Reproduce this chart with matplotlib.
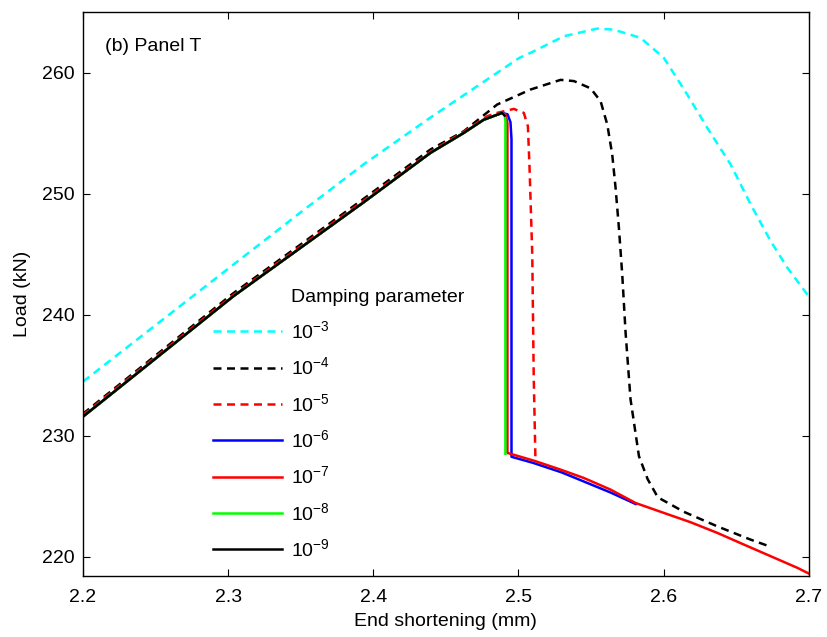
import matplotlib
matplotlib.use("Agg")
import matplotlib.pyplot as plt
from matplotlib.lines import Line2D

plt.rcParams['font.family'] = ['Liberation Sans', 'DejaVu Sans']
plt.rcParams['mathtext.fontset'] = 'custom'
plt.rcParams['mathtext.rm'] = 'Liberation Sans'
plt.rcParams['mathtext.it'] = 'Liberation Sans:italic'
plt.rcParams['font.size'] = 14

# ---- data (end shortening mm, load kN) ----
# damping 1e-3
x_e3 = [2.2, 2.269, 2.3497, 2.3931, 2.4393, 2.5005, 2.5083, 2.5312, 2.5543, 2.5657,
        2.5841, 2.6002, 2.6163, 2.6301, 2.6462, 2.66, 2.6738, 2.6853, 2.7]
y_e3 = [234.46, 240.9, 248.43, 252.4, 256.28, 261.21, 261.63, 263.0, 263.64, 263.55,
        262.87, 261.21, 258.18, 255.43, 252.4, 249.1, 246.06, 243.86, 241.5]

# damping 1e-4
x_e4 = [2.2, 2.216, 2.3034, 2.3931, 2.4393, 2.4623, 2.4853, 2.5083, 2.529, 2.5382,
        2.5497, 2.5566, 2.5612, 2.5646, 2.5669, 2.5692, 2.5715, 2.5738, 2.5772,
        2.583, 2.589, 2.596, 2.614, 2.637, 2.66, 2.674]
y_e4 = [231.8, 233.35, 241.75, 249.55, 253.64, 255.15, 257.36, 258.6, 259.4, 259.3,
        258.7, 257.63, 255.7, 253.22, 250.47, 247.16, 243.3, 238.5, 233.0,
        228.3, 226.4, 224.9, 223.7, 222.5, 221.4, 220.8]

# damping 1e-5
x_e5 = [2.2, 2.216, 2.3034, 2.3931, 2.4393, 2.4621, 2.4786, 2.4853, 2.4968, 2.5037,
        2.5065, 2.5076, 2.5095, 2.5105, 2.5117]
y_e5 = [231.7, 233.25, 241.6, 249.4, 253.45, 255.1, 256.4, 256.67, 257.0, 256.67,
        255.56, 252.26, 245.0, 235.0, 228.0]

# damping 1e-6
x_e6 = [2.2, 2.216, 2.3034, 2.3931, 2.4393, 2.4621, 2.476, 2.4887, 2.4925, 2.4945,
        2.4952, 2.4952, 2.51, 2.53, 2.5634, 2.5807]
y_e6 = [231.57, 233.1, 241.5, 249.26, 253.36, 255.0, 256.1, 256.67, 256.55, 255.9,
        254.5, 228.25, 227.75, 226.95, 225.3, 224.35]

# damping 1e-7
x_e7 = [2.2, 2.216, 2.3034, 2.3931, 2.4393, 2.4621, 2.476, 2.4887, 2.4912, 2.4924,
        2.4924, 2.5106, 2.529, 2.545, 2.5634, 2.5807, 2.6002, 2.6186, 2.637,
        2.6554, 2.6738, 2.6922, 2.7]
y_e7 = [231.57, 233.1, 241.5, 249.26, 253.36, 255.0, 256.1, 256.67, 256.5, 255.8,
        228.57, 227.93, 227.19, 226.5, 225.54, 224.43, 223.61, 222.84, 221.96,
        220.99, 220.03, 219.07, 218.6]

# damping 1e-8
x_e8 = [2.2, 2.216, 2.3034, 2.3931, 2.4393, 2.4621, 2.476, 2.4887, 2.4905, 2.491, 2.491]
y_e8 = [231.57, 233.1, 241.5, 249.26, 253.36, 255.0, 256.1, 256.67, 256.5, 256.0, 228.5]

# damping 1e-9
x_e9 = [2.2, 2.216, 2.3034, 2.3931, 2.4393, 2.4621, 2.476, 2.4887, 2.4905]
y_e9 = [231.57, 233.1, 241.5, 249.26, 253.36, 255.0, 256.1, 256.67, 256.45]

labels = [r'$10^{-3}$', r'$10^{-4}$', r'$10^{-5}$', r'$10^{-6}$',
          r'$10^{-7}$', r'$10^{-8}$', r'$10^{-9}$']

fig = plt.figure(figsize=(8.28, 6.37), dpi=100)
ax = fig.add_axes([0.1002, 0.0958, 0.8766, 0.8852])

lw = 1.8
dash = (3.2, 2.2)
l3, = ax.plot(x_e3, y_e3, color='#00ffff', lw=lw, linestyle=(0, dash))
l4, = ax.plot(x_e4, y_e4, color='black', lw=lw, linestyle=(0, dash))
l5, = ax.plot(x_e5, y_e5, color='red', lw=lw, linestyle=(0, dash))
l6, = ax.plot(x_e6, y_e6, color='blue', lw=lw)
l7, = ax.plot(x_e7, y_e7, color='red', lw=lw)
l8, = ax.plot(x_e8, y_e8, color='#00ff00', lw=lw)
l9, = ax.plot(x_e9, y_e9, color='black', lw=lw)

ax.set_xlim(2.2, 2.7)
ax.set_ylim(218.4, 265)
ax.set_xticks([2.2, 2.3, 2.4, 2.5, 2.6, 2.7])
ax.set_yticks([220, 230, 240, 250, 260])
ax.tick_params(direction='in', top=True, right=True, length=5, width=0.8)
ax.tick_params(axis='x', pad=9.5)
ax.tick_params(axis='y', pad=6)
for s in ax.spines.values():
    s.set_linewidth(1.0)

ax.set_xlabel('End shortening (mm)', labelpad=5)
ax.set_ylabel('Load (kN)', labelpad=8)
ax.text(0.03, 0.931, '(b) Panel T', transform=ax.transAxes)

# legend title as first (blank) row so it lines up with the labels
blank = Line2D([], [], color='none')
ax.legend([blank, l3, l4, l5, l6, l7, l8, l9],
          ['Damping parameter'] + labels,
          loc='upper left', bbox_to_anchor=(0.179, 0.510), frameon=False,
          borderpad=0, borderaxespad=0, handlelength=3.55, handletextpad=0.45,
          labelspacing=0.74)

plt.savefig('out.png')
